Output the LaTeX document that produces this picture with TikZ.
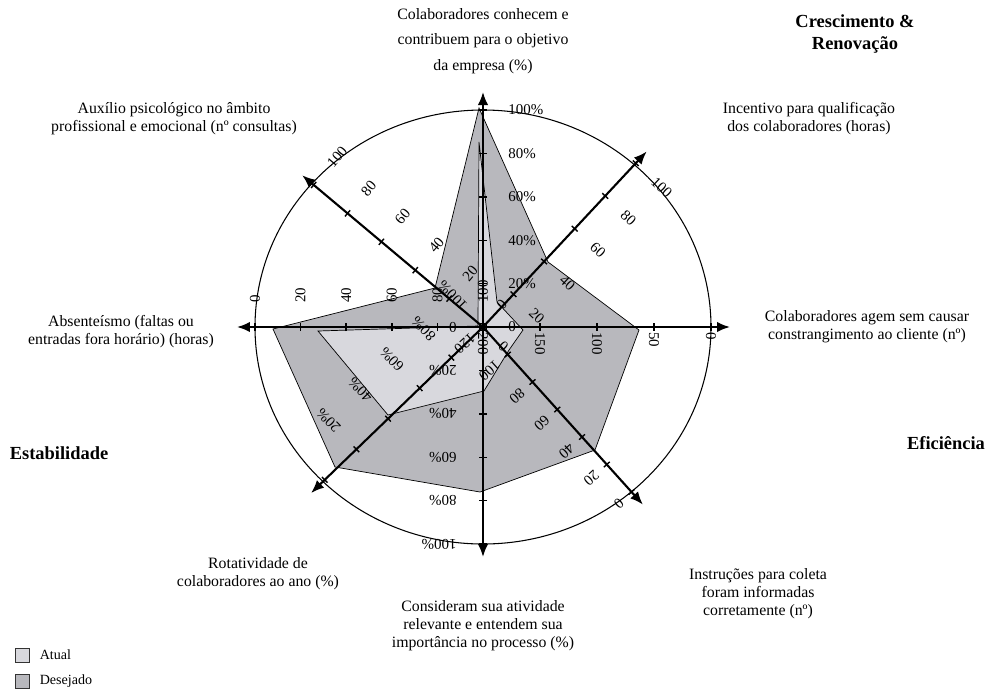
\documentclass[tikz,border=0pt]{standalone}
\usepackage{fontspec}
\setmainfont{Liberation Serif}
\usetikzlibrary{arrows.meta, positioning}

\definecolor{atualfill}{RGB}{216,216,221}
\definecolor{desejfill}{RGB}{184,184,189}

\begin{document}
\begin{tikzpicture}[
    x=0.02cm, y=0.02cm,
    axisline/.style={line width=1.2pt, -{Latex[length=2.6mm, width=2.1mm]}},
    tickmark/.style={line width=0.8pt},
    ticklabel/.style={anchor=west, inner sep=0pt, font=\fontsize{8.5}{9}\selectfont},
    caption/.style={align=center, inner sep=0pt, font=\fontsize{9}{10.2}\selectfont},
    heading/.style={align=center, inner sep=0pt, font=\fontsize{10.5}{12.5}\selectfont\bfseries},
    serie/.style={draw=black, line width=0.4pt},
    legendbox/.style={draw=black!80, line width=0.5pt, minimum size=0.28cm, inner sep=0pt}
]
\useasboundingbox (-483,-364) rectangle (507,327);

% series
\draw[serie, fill=desejfill] (-4,219) -- (65,65) -- (156,-3) -- (112,-123) -- (-3,-165)
    -- (-148,-140) -- (-210,-2) -- (-48,39) -- cycle;
\draw[serie, fill=atualfill] (-4,185) -- (14,25) -- (40,-3) -- (26,-23) -- (1,-64)
    -- (-95,-88) -- (-165,-4) -- (-5,1) -- cycle;

% outer ring
\draw[line width=0.6pt] (0,0) ellipse [x radius=228, y radius=217];

% axes
\coordinate (O) at (0,0);
\coordinate (tipN) at (90:235);
\coordinate (tipNE) at (47:240);
\coordinate (tipE) at (0:247);
\coordinate (tipSE) at (-48:239);
\coordinate (tipS) at (270:230);
\coordinate (tipSW) at (224:239);
\coordinate (tipW) at (180:246);
\coordinate (tipNW) at (140:236);
\foreach \t in {N,NE,E,SE,S,SW,W,NW}
    \draw[axisline] (O) -- (tip\t);

% ticks
\foreach \a/\s/\n in {90/43.4/5, 47/44.8/5, 0/57/4, -48/37/6, 270/43.4/5, 224/44/5, 180/45.6/5, 140/44.2/5}
    \foreach \k in {1,...,\n}
        \draw[tickmark] (\a:\k*\s) ++(\a+90:4) -- ++(\a-90:8);

% scale labels
\foreach \k/\t in {0/0, 1/20\%, 2/40\%, 3/60\%, 4/80\%, 5/100\%}
    \path (90:\k*43.4) ++(0:25) node[ticklabel] (labN\k) {\t};
\foreach \k/\t in {0/0, 1/20, 2/40, 3/60, 4/80, 5/100}
    \path (47:\k*44.8) ++(-43:24) node[ticklabel, rotate=-43] (labNE\k) {\t};
\foreach \k/\t in {0/200, 1/150, 2/100, 3/50, 4/0}
    \path (0:\k*57) ++(-90:5) node[ticklabel, rotate=-90] (labE\k) {\t};
\foreach \k/\t in {0/120, 1/100, 2/80, 3/60, 4/40, 5/20, 6/0}
    \path (-48:\k*37) ++(-138:13) node[ticklabel, rotate=-138] (labSE\k) {\t};
\foreach \k/\t in {0/0, 1/20\%, 2/40\%, 3/60\%, 4/80\%, 5/100\%}
    \path (270:\k*43.4) ++(180:26) node[ticklabel, rotate=180] (labS\k) {\t};
\foreach \k/\t in {0/100\%, 1/80\%, 2/60\%, 3/40\%, 4/20\%}
    \path (224:\k*44) ++(134:26) node[ticklabel, rotate=134] (labSW\k) {\t};
\foreach \k/\t in {0/100, 1/80, 2/60, 3/40, 4/20, 5/0}
    \path (180:\k*45.6) ++(90:24) node[ticklabel, rotate=90] (labW\k) {\t};
\foreach \k/\t in {0/0, 1/20, 2/40, 3/60, 4/80, 5/100}
    \path (140:\k*44.2) ++(50:25) node[ticklabel, rotate=50] (labNW\k) {\t};

\node[draw, line width=0.6pt, minimum size=0.15cm, inner sep=0pt] (hub) at (O) {};

% indicator texts
\node[caption, font=\fontsize{9}{14.5}\selectfont] (objetivo) at (0,286) {Colaboradores conhecem e\\contribuem para o objetivo\\da empresa (\%)};
\node[caption] (qualif) at (326,208) {Incentivo para qualificação\\dos colaboradores (horas)};
\node[caption] (cliente) at (384,0) {Colaboradores agem sem causar\\constrangimento ao cliente (nº)};
\node[caption] (coleta) at (275,-267) {Instruções para coleta\\foram informadas\\corretamente (nº)};
\node[caption] (atividade) at (0,-299) {Consideram sua atividade\\relevante e entendem sua\\importância no processo (\%)};
\node[caption] (rotativ) at (-225,-247) {Rotatividade de\\colaboradores ao ano (\%)};
\node[caption] (absent) at (-362,-5) {Absenteísmo (faltas ou\\entradas fora horário) (horas)};
\node[caption] (auxilio) at (-309,208) {Auxílio psicológico no âmbito\\profissional e emocional (nº consultas)};

% perspectives
\node[heading] (cresc) at (372,293) {Crescimento \&\\Renovação};
\node[heading] (efic) at (463,-116) {Eficiência};
\node[heading] (estab) at (-424,-126) {Estabilidade};

% legend
\node[legendbox, fill=atualfill] (legA) at (-461,-328) {};
\node[legendbox, fill=desejfill] (legD) at (-461,-354) {};
\node[caption, font=\fontsize{8}{9}\selectfont, right=0.2cm of legA] (txtA) {Atual};
\node[caption, font=\fontsize{8}{9}\selectfont, right=0.2cm of legD] (txtD) {Desejado};
\end{tikzpicture}
\end{document}
